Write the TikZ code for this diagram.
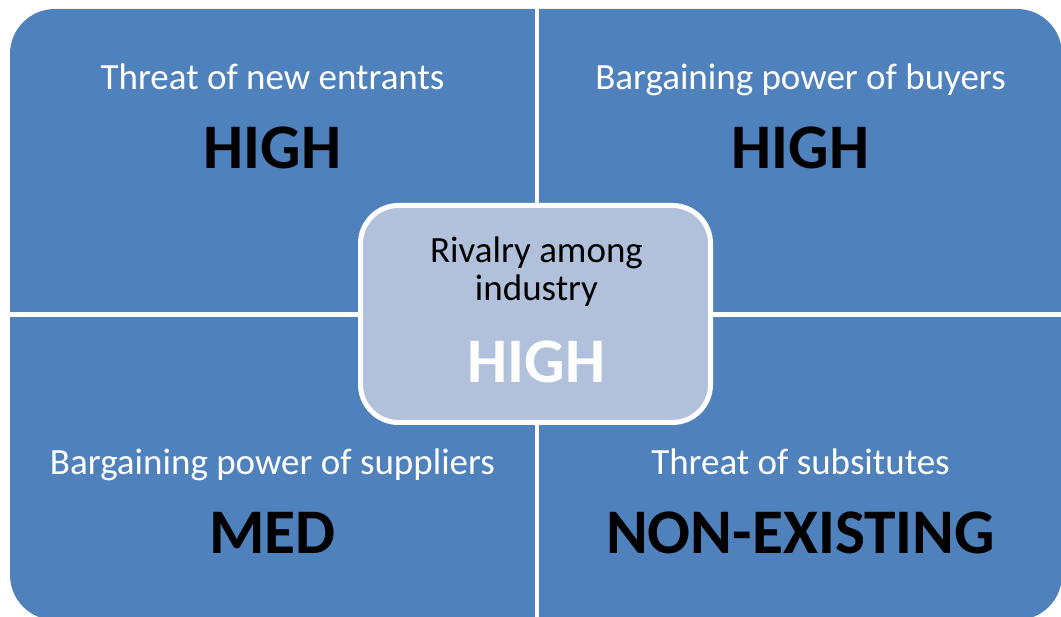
\documentclass[tikz,border=0pt]{standalone}
\usepackage{fontspec}
\setmainfont{Carlito}
\definecolor{quadblue}{HTML}{4F81BD}
\definecolor{centerblue}{HTML}{B1C1DC}
\begin{document}
\begin{tikzpicture}[x=1pt,y=1pt,
  lbl/.style={anchor=base,font=\fontsize{37}{40}\selectfont,text=white,inner sep=0pt},
  big/.style={anchor=base,font=\fontsize{63.5}{66}\selectfont\bfseries,text=black,inner sep=0pt},
  centerbox/.style={draw=white,line width=5pt,fill=centerblue,rounded corners=38pt,
    minimum width=350pt,minimum height=217pt,inner sep=0pt}]
\useasboundingbox (0,0) rectangle (1061,617);
\clip (0,0) rectangle (1061,617);
% quadrants
\fill[quadblue,rounded corners=45pt] (10,-3) rectangle (1062,608);
\fill[white] (535,-5) rectangle (539,620);
\fill[white] (5,300) rectangle (1066,305);
% center box
\node[centerbox] (c) at (535.5,303) {};
% texts
\node[lbl] (tl) at (272.5,527) {Threat of new entrants};
\node[big] (tlv) at (272.5,448) {HIGH};
\node[lbl] (tr) at (800.5,527) {Bargaining power of buyers};
\node[big] (trv) at (800.5,448) {HIGH};
\node[lbl] (bl) at (272.5,142) {Bargaining power of suppliers};
\node[big] (blv) at (272.5,63) {MED};
\node[lbl] (br) at (800.5,142) {Threat of subsitutes};
\node[big] (brv) at (800.5,63) {NON-EXISTING};
\node[lbl,text=black] (c1) at (536.5,354) {Rivalry among};
\node[lbl,text=black] (c2) at (536.5,316) {industry};
\node[big,text=white] (cv) at (536.5,234) {HIGH};
\end{tikzpicture}
\end{document}
